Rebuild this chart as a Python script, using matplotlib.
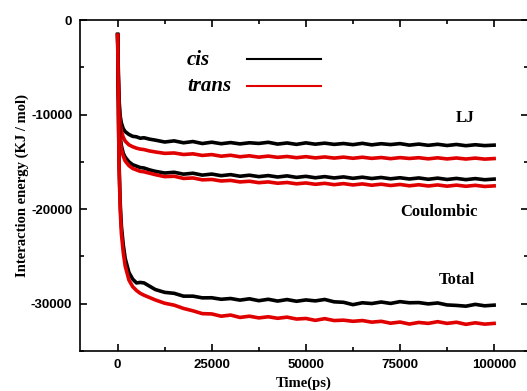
"""Interaction energy vs time, cis / trans."""
import matplotlib
matplotlib.use('Agg')
import matplotlib.pyplot as plt
from matplotlib.lines import Line2D
from matplotlib.ticker import MultipleLocator

plt.rcParams['axes.unicode_minus'] = False

# time axis (ps): dense at the start, then every 2500 ps
time_early = [0, 200, 400, 700, 1000, 1500, 2000, 3000, 4000, 5000, 6000, 7000, 8500]
time_late = [10000 + 2500 * i for i in range(37)]
time_ps = time_early + time_late

lj_cis = [-1500, -5800, -8600, -10200, -10900, -11500, -11800, -12100, -12300, -12350, -12500, -12450, -12600,
          -12700, -12900, -12780, -12980, -12850, -13060, -12920, -13080, -12960, -13100, -12980, -13050,
          -12930, -13120, -13000, -13150, -12990, -13130, -13020, -13150, -13060, -13180, -13040, -13200,
          -13080, -13170, -13070, -13230, -13120, -13250, -13140, -13270, -13160, -13290, -13190, -13280, -13230]
lj_trans = [-1600, -6300, -9300, -11000, -11800, -12400, -12800, -13200, -13400, -13550, -13650, -13700, -13850,
            -13950, -14100, -14060, -14220, -14150, -14320, -14230, -14400, -14300, -14460, -14360, -14500,
            -14390, -14520, -14430, -14560, -14450, -14580, -14480, -14600, -14500, -14620, -14510, -14630,
            -14540, -14660, -14550, -14640, -14560, -14680, -14570, -14690, -14590, -14700, -14600, -14710, -14650]
coul_cis = [-1600, -7200, -10300, -12400, -13300, -14100, -14500, -15000, -15300, -15450, -15600, -15650, -15850,
            -16000, -16180, -16100, -16300, -16200, -16400, -16290, -16460, -16350, -16520, -16410, -16560,
            -16450, -16600, -16480, -16640, -16530, -16680, -16560, -16700, -16590, -16740, -16620, -16760,
            -16650, -16790, -16680, -16810, -16700, -16840, -16720, -16860, -16750, -16880, -16770, -16890, -16820]
coul_trans = [-1600, -7500, -10700, -12800, -13700, -14400, -14900, -15400, -15700, -15850, -16000, -16050, -16200,
              -16350, -16560, -16520, -16750, -16700, -16900, -16860, -17020, -16960, -17120, -17050, -17200,
              -17120, -17260, -17180, -17320, -17230, -17370, -17270, -17410, -17300, -17440, -17330, -17470,
              -17360, -17500, -17390, -17530, -17420, -17550, -17440, -17570, -17460, -17580, -17480, -17600, -17540]
total_cis = [-1600, -9500, -15500, -19500, -21800, -23800, -25200, -26700, -27400, -27800, -27750, -27800, -28150,
             -28500, -28800, -28900, -29200, -29200, -29380, -29370, -29530, -29450, -29620, -29480, -29680,
             -29530, -29720, -29560, -29740, -29600, -29700, -29550, -29800, -29850, -30100, -29900, -29980,
             -29820, -29970, -29780, -29900, -29880, -30020, -29920, -30130, -30180, -30260, -30070, -30220, -30150]
total_trans = [-1600, -9800, -16000, -20200, -22600, -24600, -26000, -27500, -28200, -28600, -28900, -29100, -29350,
               -29600, -29950, -30150, -30500, -30750, -31050, -31080, -31320, -31200, -31450, -31320, -31500,
               -31380, -31540, -31420, -31620, -31560, -31760, -31580, -31780, -31740, -31860, -31780, -31950,
               -31860, -32060, -31940, -32150, -31980, -32080, -31900, -32080, -31960, -32180, -32020, -32160, -32080]

serif = 'Liberation Serif'
sans = 'Liberation Sans'
black = '#000000'
red = '#e00000'

fig = plt.figure(figsize=(5.27, 3.91), dpi=100)
ax = fig.add_axes([0.1518, 0.1023, 0.8501, 0.8465])

for cis, trans in [(lj_cis, lj_trans), (coul_cis, coul_trans), (total_cis, total_trans)]:
    ax.plot(time_ps, cis, color=black, lw=2.6)
    ax.plot(time_ps, trans, color=red, lw=2.6)

ax.set_xlim(-10000, 109000)
ax.set_ylim(-35000, 0)
ax.xaxis.set_major_locator(MultipleLocator(25000))
ax.xaxis.set_minor_locator(MultipleLocator(12500))
ax.yaxis.set_major_locator(MultipleLocator(10000))
ax.yaxis.set_minor_locator(MultipleLocator(5000))
ax.tick_params(which='both', direction='in', top=True, right=True, width=1.2)
ax.tick_params(which='major', length=5, pad=5.5)
ax.tick_params(which='minor', length=3)
for sp in ax.spines.values():
    sp.set_linewidth(1.2)
for lab in ax.get_xticklabels() + ax.get_yticklabels():
    lab.set_fontfamily(sans)
    lab.set_fontweight('bold')
    lab.set_fontsize(9.5)

ax.set_xlabel('Time(ps)', family=serif, fontweight='bold', fontsize=10.5, labelpad=4)
ax.set_ylabel('Interaction energy (KJ / mol)', family=serif, fontweight='bold', fontsize=10.5, labelpad=1.5)

# curve labels
ax.text(92300, -10400, 'LJ', family=serif, fontweight='bold', fontsize=11.5, ha='center', va='center')
ax.text(85400, -20300, 'Coulombic', family=serif, fontweight='bold', fontsize=12, ha='center', va='center')
ax.text(90200, -27500, 'Total', family=serif, fontweight='bold', fontsize=12, ha='center', va='center')

# legend: names on the left, line keys on the right
key_font = dict(family=serif, fontweight='bold', style='italic', fontsize=15)
ax.text(0.239, 0.864, 'cis', transform=ax.transAxes, va='baseline', **key_font)
ax.text(0.239, 0.785, 'trans', transform=ax.transAxes, va='baseline', **key_font)
handles = [Line2D([], [], color=black, lw=1.5), Line2D([], [], color=red, lw=1.5)]
ax.legend(handles, ['', ''], frameon=False, loc='upper left', bbox_to_anchor=(0.373, 0.91),
          borderaxespad=0, borderpad=0, handlelength=3.55, handletextpad=0, labelspacing=0.35,
          prop={'size': 15})

fig.savefig('out.png', dpi=100)
